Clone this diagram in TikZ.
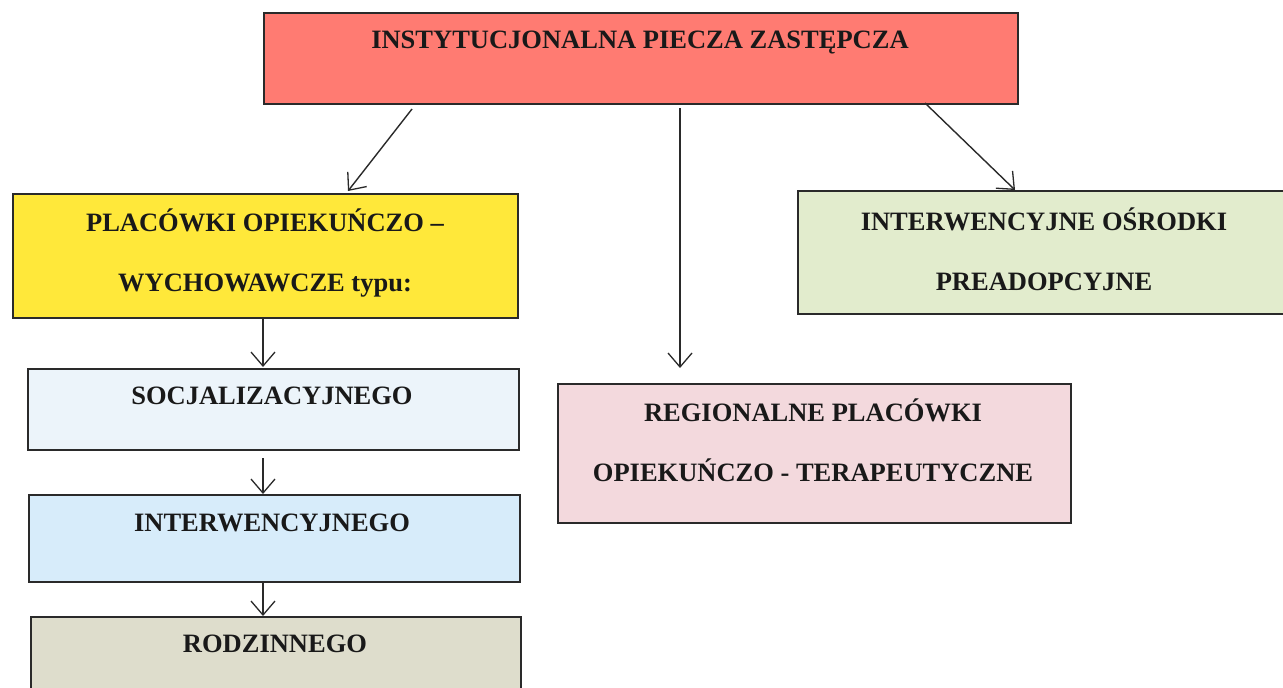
\documentclass[tikz,border=0pt]{standalone}
\usepackage{fontspec}
\setmainfont{Liberation Serif}
\usetikzlibrary{arrows.meta}
\definecolor{cred}{HTML}{FF7B72}
\definecolor{cyellow}{HTML}{FFE83A}
\definecolor{cgreen}{HTML}{E2ECCD}
\definecolor{cblue1}{HTML}{ECF4FA}
\definecolor{cblue2}{HTML}{D7ECFA}
\definecolor{ctan}{HTML}{DEDDCC}
\definecolor{cpink}{HTML}{F3D9DD}
\definecolor{cline}{HTML}{2A2A2A}
\tikzset{
  box/.style={draw=cline, line width=1.5pt, rectangle, inner sep=0pt, anchor=north west},
  lbl/.style={font=\fontsize{26.5}{60}\selectfont\bfseries, align=center, inner sep=0pt, text=black!90},
  arr/.style={draw=cline, line width=1.4pt, -{Straight Barb[length=14pt,width=24pt,line width=1.3pt]}}
}
\begin{document}
\begin{tikzpicture}[x=1pt,y=-1pt]
\useasboundingbox[fill=white] (0,0) rectangle (1283,688);
% boxes
\node[box, fill=cred, minimum width=754pt, minimum height=91pt] (top) at (263,12) {};
\node[box, fill=cyellow, minimum width=505pt, minimum height=124pt] (plac) at (12,193) {};
\node[box, fill=cgreen, minimum width=487pt, minimum height=123pt] (inter) at (797,190) {};
\node[box, fill=cblue1, minimum width=491pt, minimum height=81pt] (soc) at (27,368) {};
\node[box, fill=cblue2, minimum width=491pt, minimum height=87pt] (int) at (28,494) {};
\node[box, fill=ctan, minimum width=490pt, minimum height=90pt] (rod) at (30,616) {};
\node[box, fill=cpink, minimum width=513pt, minimum height=139pt] (reg) at (557,383) {};
% texts
\node[lbl] (ttop) at (640,43) {INSTYTUCJONALNA PIECZA ZASTĘPCZA};
\node[lbl] (tplac) at (265,253) {PLACÓWKI OPIEKUŃCZO –\\WYCHOWAWCZE typu:};
\node[lbl] (tinter) at (1044,249) {INTERWENCYJNE OŚRODKI\\PREADOPCYJNE};
\node[lbl] (tsoc) at (272,396) {SOCJALIZACYJNEGO};
\node[lbl] (tint) at (272,523) {INTERWENCYJNEGO};
\node[lbl] (trod) at (275,644) {RODZINNEGO};
\node[lbl] (treg) at (813,440) {REGIONALNE PLACÓWKI\\OPIEKUŃCZO - TERAPEUTYCZNE};
% arrows
\coordinate (a1s) at (412,109);
\coordinate (a1e) at (348,191);
\coordinate (a2s) at (680,108);
\coordinate (a2e) at (680,368);
\coordinate (a3s) at (925,103);
\coordinate (a3e) at (1015,190);
\coordinate (a4s) at (263,318);
\coordinate (a4e) at (263,367);
\coordinate (a5s) at (263,458);
\coordinate (a5e) at (263,494);
\coordinate (a6s) at (263,582);
\coordinate (a6e) at (263,616);
\draw[arr] (a1s) -- (a1e);
\draw[arr] (a2s) -- (a2e);
\draw[arr] (a3s) -- (a3e);
\draw[arr] (a4s) -- (a4e);
\draw[arr] (a5s) -- (a5e);
\draw[arr] (a6s) -- (a6e);
\end{tikzpicture}
\end{document}
